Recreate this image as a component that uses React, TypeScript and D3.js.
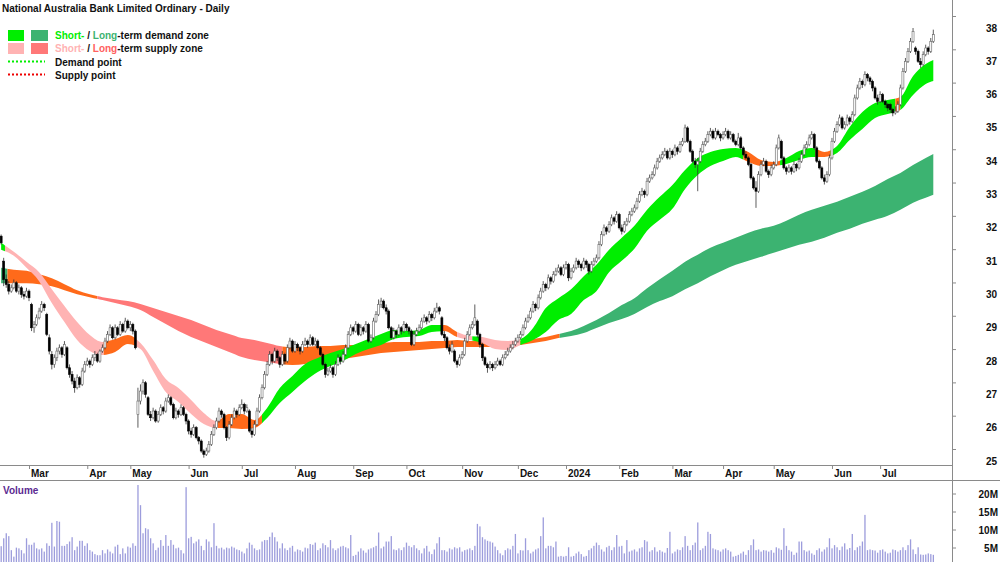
import React, { useMemo } from 'react';
import * as d3 from 'd3';

const TITLE = 'National Australia Bank Limited Ordinary - Daily';

// one row per session: [open, high, low, close, volume in millions]
const feb23 = [[31.75,31.8,31.5,31.55,5.5],[31.0,31.1,30.25,30.45,7.7],[30.45,30.6,30.2,30.3,9.1],[30.3,30.4,30.0,30.1,8.3],[30.1,30.3,30.05,30.2,4.4],[30.2,30.45,30.15,30.35,2.6],[30.35,30.4,30.05,30.1,5.1],[30.1,30.3,30.0,30.2,4.9],[30.2,30.25,29.9,30.0,4.4],[30.0,30.1,29.85,29.95,3.5],[29.95,30.2,29.9,30.1,7.7]];
const mar23 = [[30.1,30.15,29.8,29.9,5.9],[29.7,29.75,28.9,29.0,5.9],[29.0,29.2,28.85,29.1,6.5],[29.1,29.4,29.05,29.3,4.9],[29.3,29.6,29.25,29.5,4.6],[29.5,29.8,29.45,29.7,4.9],[29.7,29.75,29.5,29.6,4.0],[29.4,29.45,28.75,28.8,6.3],[28.7,28.8,28.2,28.3,5.6],[28.2,28.3,27.75,27.9,12.0],[27.9,28.2,27.8,28.1,5.4],[28.1,28.4,28.0,28.3,12.5],[28.3,28.5,28.2,28.4,12.3],[28.4,28.45,28.1,28.2,5.6],[28.2,28.6,28.15,28.5,5.6],[28.4,28.45,27.75,27.8,6.1],[27.8,27.9,27.5,27.6,6.8],[27.6,27.7,27.3,27.4,8.0],[27.4,27.5,27.05,27.2,4.4],[27.2,27.6,27.15,27.5,5.4],[27.5,27.55,27.2,27.3,7.0],[27.3,27.8,27.25,27.7,7.0],[27.7,28.0,27.65,27.9,5.6]];
const apr23 = [[27.9,28.1,27.85,28.0,6.3],[28.0,28.05,27.8,27.9,4.4],[27.9,28.2,27.85,28.1,4.0],[28.1,28.3,28.0,28.2,3.3],[28.2,28.25,27.95,28.0,3.0],[28.0,28.35,27.95,28.3,3.0],[28.3,28.5,28.25,28.4,4.4],[28.4,28.7,28.35,28.6,3.5],[28.6,28.9,28.55,28.8,4.6],[28.8,29.1,28.75,29.0,4.0],[29.0,29.05,28.65,28.7,3.5],[28.7,29.1,28.65,29.0,5.4],[29.0,29.05,28.75,28.8,5.9],[28.8,29.2,28.75,29.1,3.3],[29.1,29.15,28.85,28.9,4.9],[28.9,29.3,28.85,29.2,3.5],[29.2,29.25,28.95,29.0,5.4]];
const may23 = [[29.0,29.2,28.9,29.1,5.1],[29.1,29.15,28.8,28.9,6.3],[28.9,28.95,28.35,28.4,5.6],[26.4,27.2,26.0,26.8,22.5],[26.8,27.3,26.7,27.1,16.9],[27.1,27.45,27.0,27.35,9.1],[27.35,27.4,26.9,27.0,10.5],[26.9,26.95,26.35,26.4,10.2],[26.4,26.5,26.2,26.3,7.7],[26.3,26.6,26.25,26.5,6.3],[26.5,26.55,26.15,26.2,4.4],[26.2,26.5,26.15,26.4,5.1],[26.4,26.7,26.35,26.6,7.2],[26.6,26.65,26.4,26.5,5.6],[26.5,26.9,26.45,26.8,8.6],[26.8,27.0,26.75,26.9,5.6],[26.9,26.95,26.65,26.7,7.2],[26.7,26.75,26.25,26.3,5.9],[26.3,26.6,26.25,26.5,4.9],[26.5,26.55,26.3,26.4,5.1],[26.4,26.7,26.35,26.6,4.4],[26.6,26.65,26.35,26.4,3.5],[26.4,26.45,26.1,26.2,21.9]];
const jun23 = [[26.2,26.25,25.8,25.9,7.7],[25.9,26.0,25.7,25.8,8.1],[25.8,26.1,25.75,26.0,6.3],[26.0,26.05,25.65,25.7,6.8],[25.7,25.75,25.5,25.6,7.4],[25.6,25.65,25.25,25.3,5.6],[25.3,25.35,25.1,25.2,4.4],[25.2,25.4,25.15,25.3,7.4],[25.3,25.6,25.25,25.5,6.8],[25.5,25.9,25.45,25.8,5.2],[25.8,26.1,25.75,26.0,11.9],[26.0,26.3,25.95,26.2,5.6],[26.2,26.6,26.15,26.5,4.9],[26.5,26.55,26.3,26.4,5.1],[26.4,26.45,25.95,26.0,4.6],[26.0,26.05,25.6,25.7,5.1],[25.7,26.2,25.65,26.1,4.9],[26.1,26.4,26.05,26.3,5.4],[26.3,26.6,26.25,26.5,5.1],[26.5,26.55,26.3,26.4,4.6],[26.4,26.7,26.35,26.6,4.4]];
const jul23 = [[26.6,26.85,26.55,26.7,4.0],[26.7,26.75,26.4,26.5,3.5],[26.5,26.7,26.45,26.6,4.9],[26.5,26.55,25.85,25.9,6.5],[25.9,26.0,25.7,25.8,5.9],[25.8,26.2,25.75,26.1,4.9],[26.1,26.6,26.05,26.5,4.4],[26.5,27.0,26.45,26.9,4.6],[26.9,27.3,26.85,27.2,6.8],[27.2,27.7,27.15,27.6,7.2],[27.6,28.0,27.55,27.9,7.2],[27.9,28.3,27.85,28.2,8.1],[28.2,28.25,27.9,28.0,9.3],[28.0,28.4,27.95,28.3,8.0],[28.3,28.35,28.0,28.1,6.8],[28.1,28.15,27.8,27.9,4.9],[27.9,28.3,27.85,28.2,6.3],[28.2,28.25,27.9,28.0,4.9],[28.0,28.5,27.95,28.4,4.4],[28.4,28.7,28.35,28.6,5.1],[28.6,28.65,28.25,28.3,5.6]];
const aug23 = [[28.3,28.6,28.25,28.5,4.0],[28.5,28.55,28.3,28.4,4.6],[28.4,28.45,28.2,28.3,4.4],[28.3,28.6,28.25,28.5,4.0],[28.5,28.7,28.45,28.6,5.1],[28.6,28.65,28.4,28.5,4.9],[28.5,28.8,28.45,28.7,6.1],[28.7,28.75,28.45,28.5,5.9],[28.5,28.7,28.45,28.6,6.5],[28.6,28.65,28.35,28.4,4.4],[28.4,28.45,28.15,28.2,4.9],[28.2,28.25,27.85,27.9,6.3],[27.9,27.95,27.5,27.6,5.8],[27.6,27.8,27.55,27.7,5.2],[27.7,27.9,27.65,27.8,7.2],[27.8,27.85,27.5,27.6,4.9],[27.6,28.0,27.55,27.9,4.4],[27.9,28.2,27.85,28.1,4.9],[28.1,28.15,27.9,28.0,5.4],[28.0,28.3,27.95,28.2,5.6],[28.2,28.5,28.15,28.4,5.2],[28.4,28.9,28.35,28.8,4.9],[28.8,29.1,28.75,29.0,8.6]];
const sep23 = [[29.0,29.05,28.8,28.9,2.8],[28.9,29.2,28.85,29.1,3.1],[29.1,29.15,28.75,28.8,4.0],[28.8,29.1,28.75,29.0,4.9],[29.0,29.05,28.8,28.9,4.3],[28.9,29.2,28.85,29.1,3.7],[29.1,29.15,28.55,28.6,4.6],[28.6,28.8,28.55,28.7,4.9],[28.7,29.3,28.65,29.2,5.2],[29.2,29.5,29.15,29.4,5.6],[29.4,29.85,29.35,29.7,9.3],[29.7,29.9,29.6,29.8,4.9],[29.8,29.85,29.55,29.6,5.4],[29.6,29.7,29.4,29.5,6.8],[29.5,29.55,28.95,29.0,6.8],[29.0,29.05,28.65,28.7,8.3],[28.7,29.0,28.65,28.9,4.6],[28.9,28.95,28.7,28.8,4.4],[28.8,29.1,28.75,29.0,4.9],[29.0,29.05,28.8,28.9,4.4],[28.9,29.2,28.85,29.1,5.2]];
const oct23 = [[29.1,29.15,28.9,29.0,6.5],[29.0,29.05,28.8,28.9,5.6],[28.9,28.95,28.45,28.5,5.2],[28.5,28.9,28.45,28.8,5.8],[28.8,29.0,28.75,28.9,4.9],[28.9,29.1,28.85,29.0,4.4],[29.0,29.3,28.95,29.2,3.5],[29.2,29.4,29.15,29.3,4.9],[29.3,29.35,29.1,29.2,5.6],[29.2,29.5,29.15,29.4,4.0],[29.4,29.45,29.2,29.3,3.3],[29.3,29.6,29.25,29.5,4.6],[29.5,29.75,29.45,29.6,6.3],[29.6,29.65,29.4,29.5,8.0],[29.3,29.35,28.75,28.8,4.4],[28.8,28.9,28.6,28.7,4.4],[28.7,28.75,28.35,28.4,4.0],[28.4,28.5,28.2,28.3,4.9],[28.3,28.6,28.25,28.5,4.6],[28.3,28.35,27.95,28.0,5.2],[28.0,28.05,27.8,27.9,4.9],[27.9,28.2,27.85,28.1,5.2]];
const nov23 = [[28.1,28.3,28.05,28.2,4.0],[28.2,28.7,28.15,28.6,4.4],[28.6,28.9,28.55,28.8,4.6],[28.8,29.1,28.75,29.0,4.9],[29.0,29.2,28.95,29.1,4.4],[29.1,29.7,29.05,29.3,5.6],[29.2,29.25,28.7,28.8,11.7],[28.8,28.85,28.4,28.5,11.0],[28.5,28.55,28.0,28.1,8.0],[28.1,28.15,27.85,27.9,7.4],[27.9,27.95,27.65,27.8,7.0],[27.8,28.0,27.75,27.9,6.8],[27.9,27.95,27.7,27.8,6.5],[27.8,28.0,27.75,27.9,5.4],[27.9,28.1,27.85,28.0,4.4],[28.0,28.05,27.85,27.9,3.5],[27.9,28.2,27.85,28.1,3.0],[28.1,28.3,28.05,28.2,4.4],[28.2,28.4,28.15,28.3,4.9],[28.3,28.5,28.25,28.4,4.6],[28.4,28.6,28.35,28.5,5.6],[28.5,28.7,28.45,28.6,8.9]];
const dec23 = [[28.6,28.8,28.55,28.7,3.5],[28.7,28.9,28.65,28.8,4.4],[28.8,29.1,28.75,29.0,4.3],[29.0,29.3,28.95,29.2,7.7],[29.2,29.4,29.15,29.3,4.4],[29.3,29.6,29.25,29.5,3.5],[29.5,29.8,29.45,29.7,4.0],[29.7,29.75,29.5,29.6,4.6],[29.6,30.0,29.55,29.9,4.9],[29.9,30.2,29.85,30.1,8.3],[30.1,30.4,30.05,30.3,13.5],[30.3,30.35,30.1,30.2,4.9],[30.2,30.6,30.15,30.5,5.6],[30.5,30.55,30.3,30.4,5.6],[30.4,30.7,30.35,30.6,5.2],[30.6,30.8,30.55,30.7,6.8],[30.7,30.9,30.65,30.8,2.6],[30.8,30.85,30.55,30.6,2.8],[30.6,30.9,30.55,30.8,2.6]];
const jan24 = [[30.8,31.0,30.75,30.9,2.8],[30.9,30.95,30.4,30.5,5.2],[30.5,30.8,30.45,30.7,2.6],[30.7,30.9,30.65,30.8,2.8],[30.8,31.1,30.75,31.0,3.5],[31.0,31.05,30.8,30.9,4.0],[30.9,30.95,30.7,30.8,3.3],[30.8,31.1,30.75,31.0,2.6],[31.0,31.05,30.8,30.9,2.8],[30.9,30.95,30.6,30.7,4.4],[30.7,31.0,30.65,30.9,4.9],[30.9,31.1,30.85,31.0,5.6],[31.0,31.2,30.95,31.1,6.5],[31.1,31.6,31.05,31.5,5.8],[31.5,31.9,31.45,31.8,4.6],[31.8,32.1,31.75,32.0,4.0],[32.0,32.05,31.8,31.9,5.2],[31.9,32.2,31.85,32.1,5.6],[32.1,32.4,32.05,32.3,4.4],[32.3,32.35,32.1,32.2,5.2],[32.2,32.5,32.15,32.4,8.6]];
const feb24 = [[32.4,32.45,31.95,32.0,5.4],[32.0,32.1,31.8,31.9,5.6],[31.9,32.2,31.85,32.1,3.5],[32.1,32.3,32.05,32.2,7.2],[32.2,32.5,32.15,32.4,4.0],[32.4,32.6,32.35,32.5,4.3],[32.5,32.7,32.45,32.6,4.6],[32.6,32.9,32.55,32.8,4.0],[32.8,33.1,32.75,33.0,4.9],[33.0,33.2,32.95,33.1,5.2],[33.1,33.15,32.9,33.0,7.2],[33.0,33.5,32.95,33.4,6.8],[33.4,33.6,33.35,33.5,4.0],[33.5,33.7,33.45,33.6,4.4],[33.6,33.9,33.55,33.8,5.2],[33.8,34.1,33.75,34.0,4.0],[34.0,34.2,33.95,34.1,4.4],[34.1,34.3,34.05,34.2,4.0],[34.2,34.4,34.15,34.3,3.7],[34.3,34.35,34.05,34.1,5.0],[34.1,34.4,34.05,34.3,9.5]];
const mar24 = [[34.3,34.35,34.1,34.2,3.5],[34.2,34.5,34.15,34.4,4.0],[34.4,34.45,34.2,34.3,4.6],[34.3,34.6,34.25,34.5,4.4],[34.5,34.7,34.45,34.6,5.2],[34.6,35.1,34.55,35.0,8.3],[35.0,35.05,34.55,34.6,5.6],[34.6,34.65,34.25,34.3,4.4],[34.3,34.35,33.95,34.0,5.8],[34.0,34.1,33.8,33.9,6.5],[33.9,34.1,33.1,34.0,12.1],[34.0,34.4,33.95,34.3,4.4],[34.3,34.6,34.25,34.5,4.9],[34.5,34.7,34.45,34.6,5.6],[34.6,34.9,34.55,34.8,9.5],[34.8,35.0,34.75,34.9,8.9],[34.9,34.95,34.65,34.7,4.9],[34.7,35.0,34.65,34.9,4.6],[34.9,34.95,34.75,34.8,4.4],[34.8,34.85,34.6,34.7,4.0]];
const apr24 = [[34.7,34.9,34.65,34.8,4.6],[34.8,35.0,34.75,34.9,4.9],[34.9,34.95,34.65,34.7,4.4],[34.7,34.9,34.65,34.8,4.0],[34.8,34.85,34.55,34.6,2.6],[34.6,34.65,34.45,34.5,2.8],[34.5,34.85,34.45,34.7,3.1],[34.7,34.75,34.35,34.4,3.5],[34.4,34.45,34.15,34.2,4.0],[34.2,34.3,34.05,34.1,3.1],[34.1,34.15,33.85,33.9,4.4],[33.9,33.95,33.45,33.5,5.8],[33.5,33.55,33.15,33.2,7.4],[33.2,33.4,32.6,33.1,4.4],[33.1,33.7,33.05,33.6,4.6],[33.6,34.0,33.55,33.9,4.0],[33.9,34.1,33.85,34.0,4.4],[34.0,34.05,33.65,33.7,4.3],[33.7,33.75,33.5,33.6,4.0],[33.6,33.9,33.55,33.8,4.4]];
const may24 = [[33.8,34.0,33.75,33.9,3.7],[33.9,34.5,33.85,34.4,5.2],[34.4,34.8,34.35,34.7,4.9],[34.6,34.65,34.05,34.1,4.5],[34.1,34.15,33.75,33.8,10.5],[33.8,33.85,33.6,33.7,5.6],[33.7,33.9,33.65,33.8,4.4],[33.8,33.85,33.6,33.7,4.0],[33.7,34.0,33.65,33.9,3.1],[33.9,33.95,33.7,33.8,3.7],[33.8,34.1,33.75,34.0,6.8],[34.0,34.3,33.95,34.2,6.8],[34.2,34.5,34.15,34.4,4.4],[34.4,34.6,34.35,34.5,4.0],[34.5,34.8,34.45,34.7,4.3],[34.7,34.9,34.65,34.8,3.5],[34.8,34.85,34.35,34.4,3.1],[34.4,34.45,33.95,34.0,4.4],[34.0,34.05,33.75,33.8,4.9],[33.8,33.85,33.45,33.5,4.0],[33.5,33.6,33.3,33.4,4.6],[33.4,33.7,33.35,33.6,5.2],[33.6,34.2,33.55,34.1,7.7]];
const jun24 = [[34.1,34.7,34.05,34.6,4.9],[34.6,35.0,34.55,34.9,5.8],[34.9,35.2,34.85,35.1,5.2],[35.1,35.4,35.05,35.3,4.4],[35.3,35.35,34.95,35.0,5.4],[35.0,35.2,34.95,35.1,6.3],[35.1,35.4,35.05,35.3,4.6],[35.3,35.35,35.1,35.2,5.0],[35.2,35.5,35.15,35.4,8.9],[35.4,36.0,35.35,35.9,4.4],[35.9,36.3,35.85,36.2,5.2],[36.2,36.5,36.15,36.4,5.6],[36.4,36.45,36.2,36.3,6.8],[36.3,36.7,36.25,36.6,14.2],[36.6,36.65,36.4,36.5,4.4],[36.5,36.55,36.3,36.4,4.6],[36.4,36.45,36.1,36.2,4.4],[36.2,36.25,35.85,35.9,4.3],[35.9,36.0,35.7,35.8,3.7]];
const jul24 = [[35.8,36.1,35.75,36.0,4.4],[36.0,36.05,35.75,35.8,4.6],[35.8,35.85,35.6,35.7,4.0],[35.7,35.75,35.5,35.6,3.5],[35.7,35.75,35.45,35.55,3.7],[35.55,35.6,35.35,35.45,4.6],[35.45,35.65,35.4,35.5,4.4],[35.5,35.8,35.45,35.7,4.0],[35.7,36.3,35.65,36.2,4.4],[36.2,36.8,36.15,36.7,5.2],[36.7,37.1,36.65,37.0,4.4],[37.0,37.4,36.95,37.3,5.8],[37.3,37.7,37.25,37.6,7.4],[37.6,38.0,37.55,37.9,4.6],[37.4,37.45,37.2,37.3,3.3],[37.3,37.35,36.95,37.0,5.2],[37.0,37.1,36.8,36.9,3.2],[36.9,37.3,36.85,37.2,3.1],[37.2,37.5,37.15,37.4,3.2],[37.4,37.45,37.2,37.3,3.5],[37.3,37.7,37.25,37.6,3.3],[37.6,37.95,37.55,37.8,3.1]];

const months = [feb23, mar23, apr23, may23, jun23, jul23, aug23, sep23, oct23, nov23, dec23, jan24, feb24, mar24, apr24, may24, jun24, jul24];

const firstSession = new Date(2023, 1, 14);
const holidays = ['2023-04-07', '2023-04-10', '2023-04-25', '2023-06-12', '2023-12-25', '2023-12-26', '2024-01-01', '2024-01-26', '2024-03-29', '2024-04-01', '2024-04-25', '2024-06-10'];

// zone edges, read every 5th session (plus the last one)
const ZONE_STEP = 5;
const shortUpper = [31.55,31.28,30.98,30.67,30.16,29.65,29.17,28.78,28.57,28.66,28.78,28.54,28.03,27.46,27.19,26.83,26.44,26.20,26.41,26.41,26.23,26.59,27.19,27.55,27.91,28.09,28.24,28.36,28.51,28.66,28.81,28.93,28.90,28.93,29.08,29.08,28.87,28.75,28.72,28.63,28.60,28.66,28.99,29.59,29.89,30.16,30.55,30.89,31.34,31.70,32.06,32.54,32.93,33.29,33.74,34.10,34.28,34.37,34.40,34.28,34.04,33.98,34.10,34.31,34.40,34.28,34.46,35.03,35.48,35.75,35.84,35.93,36.56,36.92,37.04];
const shortLower = [31.34,31.16,30.80,30.40,29.74,29.17,28.63,28.30,28.18,28.27,28.51,28.36,27.70,27.07,26.77,26.41,26.11,25.99,25.99,25.96,25.99,26.29,26.74,27.07,27.40,27.67,27.85,28.00,28.21,28.36,28.48,28.66,28.72,28.75,28.87,28.90,28.72,28.63,28.54,28.36,28.33,28.48,28.63,28.87,29.23,29.41,29.83,30.10,30.67,31.01,31.37,31.91,32.24,32.57,33.17,33.59,33.86,34.01,34.13,33.98,33.86,33.86,33.92,34.04,34.13,34.13,34.25,34.64,34.97,35.30,35.42,35.54,35.99,36.32,36.41];
const longUpper = [30.80,30.74,30.71,30.61,30.49,30.31,30.13,30.01,29.92,29.86,29.80,29.71,29.59,29.47,29.35,29.23,29.08,28.93,28.81,28.69,28.63,28.54,28.45,28.42,28.42,28.45,28.45,28.48,28.48,28.51,28.54,28.57,28.57,28.57,28.60,28.60,28.63,28.60,28.60,28.60,28.60,28.60,28.66,28.72,28.81,28.90,29.05,29.23,29.44,29.68,29.89,30.19,30.46,30.71,30.98,31.19,31.40,31.55,31.70,31.85,31.97,32.06,32.21,32.39,32.54,32.66,32.78,32.93,33.08,33.26,33.47,33.65,33.89,34.10,34.22];
const longLower = [30.34,30.34,30.34,30.31,30.25,30.13,30.01,29.92,29.83,29.74,29.65,29.53,29.32,29.11,28.90,28.72,28.57,28.42,28.27,28.12,28.03,27.97,27.91,27.88,27.91,27.97,28.00,28.06,28.12,28.18,28.24,28.27,28.30,28.33,28.36,28.39,28.42,28.42,28.42,28.42,28.45,28.48,28.54,28.60,28.69,28.75,28.84,28.99,29.14,29.26,29.41,29.62,29.80,29.95,30.16,30.34,30.55,30.73,30.89,31.01,31.13,31.25,31.37,31.49,31.58,31.70,31.85,31.97,32.12,32.24,32.36,32.54,32.75,32.90,32.99];

// which zone each stretch of sessions belongs to: [from session, to session, kind]
const shortSegments: [number, number, string][] = [[0,1.5,'stDemand'],[1.5,40.5,'stSupply'],[40.5,53,'mixed'],[53,85.5,'stSupply'],[85.5,103,'mixed'],[103,174,'stDemand'],[174,180,'mixed'],[180,186,'stSupply'],[186,189,'stDemand'],[189,205,'stSupply'],[205,293,'stDemand'],[293,307.5,'mixed'],[307.5,321.5,'stDemand'],[321.5,327.5,'mixed'],[327.5,353,'stDemand'],[353,355,'mixed'],[355,368,'stDemand']];
const longSegments: [number, number, string][] = [[0,2.5,'ltDemand'],[2.5,38,'mixed'],[38,111,'ltSupply'],[111,220.5,'mixed'],[220.5,368,'ltDemand']];

const priceTicks = [25, 26, 27, 28, 29, 30, 31, 32, 33, 34, 35, 36, 37, 38];
const volumeTicks = [5, 10, 15, 20];

const zoneColors: Record<string, string> = {
  stDemand: '#00ee00',
  ltDemand: '#3cb371',
  stSupply: '#ffb3b3',
  ltSupply: '#ff7878',
  mixed: '#ff6a1a',
};

const FONT = "'Liberation Sans', Arial, Helvetica, sans-serif";
const AXIS = '#8a8a8a';

function sessions(n: number) {
  const fmt = d3.timeFormat('%Y-%m-%d');
  const skip = new Set(holidays);
  const out: Date[] = [];
  let d = firstSession;
  while (out.length < n) {
    const wd = d.getDay();
    if (wd !== 0 && wd !== 6 && !skip.has(fmt(d))) out.push(d);
    d = d3.timeDay.offset(d, 1);
  }
  return out;
}

export default function App() {
  const rows = useMemo(() => months.flat() as number[][], []);
  const n = rows.length;
  const dates = useMemo(() => sessions(n), [n]);

  const W = 1000, H = 562;
  const plotRight = 952;
  const priceBottom = 465;
  const volTop = 480;

  const x = d3.scaleLinear().domain([0, n - 1]).range([1.14, 933.3]);
  const y = d3.scaleLinear().domain([25, 38]).range([461, 28]);
  const vy = d3.scaleLinear().domain([0, 20]).range([566, 494]);

  const zoneIdx = [...d3.range(0, n - 1, ZONE_STEP), n - 1];

  const band = (upper: number[], lower: number[]) =>
    d3.area<number>()
      .x(k => x(k))
      .y0((_, j) => y(lower[j]))
      .y1((_, j) => y(upper[j]))
      .curve(d3.curveMonotoneX)(zoneIdx) || '';

  const shortPath = band(shortUpper, shortLower);
  const longPath = band(longUpper, longLower);

  const monthTicks = dates
    .map((d, i) => ({ d, i }))
    .filter(({ d, i }) => i > 0 && d.getMonth() !== dates[i - 1].getMonth());

  const segX = (a: number, b: number) => {
    const x0 = a <= 0 ? 0 : x(a);
    const x1 = b >= n - 1 ? plotRight : x(b);
    return { x0, w: x1 - x0 };
  };

  return (
    <svg width={W} height={H} style={{ position: 'absolute', left: 0, top: 0, display: 'block', background: '#fff' }}
      fontFamily={FONT}>
      <defs>
        <clipPath id="price-clip"><rect x={0} y={0} width={plotRight} height={priceBottom} /></clipPath>
        <clipPath id="vol-clip"><rect x={0} y={volTop + 1} width={plotRight} height={H - volTop} /></clipPath>
        {longSegments.map(([a, b], k) => {
          const s = segX(a, b);
          return <clipPath key={'lc' + k} id={'lt-' + k}><rect x={s.x0} y={0} width={s.w} height={priceBottom} /></clipPath>;
        })}
        {shortSegments.map(([a, b], k) => {
          const s = segX(a, b);
          return <clipPath key={'sc' + k} id={'st-' + k}><rect x={s.x0} y={0} width={s.w} height={priceBottom} /></clipPath>;
        })}
      </defs>

      <rect x={0} y={0} width={W} height={H} fill="#fff" />

      <g clipPath="url(#price-clip)">
        {longSegments.map(([, , kind], k) => (
          <path key={'l' + k} d={longPath} fill={zoneColors[kind]} clipPath={`url(#lt-${k})`} />
        ))}
        {shortSegments.map(([, , kind], k) => (
          <path key={'s' + k} d={shortPath} fill={zoneColors[kind]} clipPath={`url(#st-${k})`} />
        ))}

        {rows.map(([o, h, l, c], i) => {
          const cx = x(i);
          const up = c >= o;
          const top = y(Math.max(o, c));
          const bh = Math.max(0.8, Math.abs(y(o) - y(c)));
          return (
            <g key={i}>
              <line x1={cx} x2={cx} y1={y(h)} y2={y(l)} stroke="#333" strokeWidth={0.8} />
              <rect x={cx - 1} y={top} width={2} height={bh}
                fill={up ? '#fff' : '#000'} stroke={up ? '#666' : '#000'} strokeWidth={0.6} />
            </g>
          );
        })}
      </g>

      {/* volume */}
      <g clipPath="url(#vol-clip)">
        {rows.map((r, i) => (
          <rect key={i} x={x(i) - 0.6} y={vy(r[4])} width={1.3} height={H - vy(r[4])} fill="#9c9cdc" />
        ))}
      </g>

      {/* frame */}
      <line x1={plotRight + 0.5} x2={plotRight + 0.5} y1={0} y2={H} stroke={AXIS} />
      <line x1={0} x2={plotRight} y1={priceBottom + 0.5} y2={priceBottom + 0.5} stroke={AXIS} />
      <line x1={0} x2={W} y1={volTop + 0.5} y2={volTop + 0.5} stroke={AXIS} />

      {monthTicks.map(({ d, i }) => (
        <g key={i}>
          <line x1={x(i) + 0.5} x2={x(i) + 0.5} y1={priceBottom} y2={priceBottom + 4} stroke={AXIS} />
          <text x={x(i) + 2} y={477} fontSize={10} fontWeight="bold" fill="#111">
            {d.getMonth() === 0 ? d3.timeFormat('%Y')(d) : d3.timeFormat('%b')(d)}
          </text>
        </g>
      ))}

      {priceTicks.map(v => (
        <g key={v}>
          <line x1={plotRight} x2={plotRight + 4} y1={y(v) - 11.5} y2={y(v) - 11.5} stroke={AXIS} />
          <text x={997} y={y(v) + 3.5} textAnchor="end" fontSize={10} fontWeight="bold" fill="#111">{v}</text>
        </g>
      ))}

      {volumeTicks.map(v => (
        <g key={v}>
          <line x1={plotRight} x2={plotRight + 4} y1={vy(v)} y2={vy(v)} stroke={AXIS} />
          <text x={998} y={vy(v) + 3.5} textAnchor="end" fontSize={10} fontWeight="bold" fill="#111">{v}M</text>
        </g>
      ))}

      <text x={3} y={493.5} fontSize={10} fontWeight="bold" fill="#5b2a91">Volume</text>

      {/* title and legend */}
      <text x={2} y={11.5} fontSize={10} fontWeight="bold" fill="#111">{TITLE}</text>

      <rect x={8} y={30} width={16} height={11} fill={zoneColors.stDemand} />
      <rect x={31} y={30} width={17} height={11} fill={zoneColors.ltDemand} />
      <text x={55} y={39} fontSize={10} fontWeight="bold" fill="#111">
        <tspan fill={zoneColors.stDemand}>Short-</tspan> / <tspan fill={zoneColors.ltDemand}>Long</tspan>-term demand zone
      </text>

      <rect x={8} y={43} width={16} height={11} fill={zoneColors.stSupply} />
      <rect x={31} y={43} width={17} height={11} fill={zoneColors.ltSupply} />
      <text x={55} y={52} fontSize={10} fontWeight="bold" fill="#111">
        <tspan fill={zoneColors.stSupply}>Short-</tspan> / <tspan fill="#ff6060">Long</tspan>-term supply zone
      </text>

      <line x1={8} x2={45} y1={61.5} y2={61.5} stroke="#00ee00" strokeWidth={2} strokeDasharray="2 2" />
      <text x={55} y={65.5} fontSize={10} fontWeight="bold" fill="#111">Demand point</text>

      <line x1={8} x2={45} y1={74.5} y2={74.5} stroke="#ee0000" strokeWidth={2} strokeDasharray="2 2" />
      <text x={55} y={78.5} fontSize={10} fontWeight="bold" fill="#111">Supply point</text>
    </svg>
  );
}
